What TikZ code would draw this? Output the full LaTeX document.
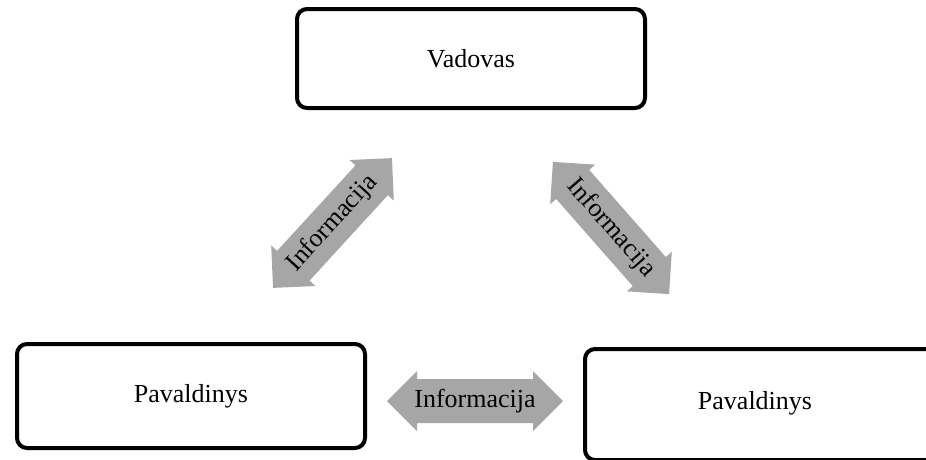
\documentclass[tikz,border=0pt]{standalone}
\usepackage{fontspec}
\setmainfont{Liberation Serif}
\definecolor{arrowgray}{HTML}{A6A6A6}
\begin{document}
\begin{tikzpicture}[x=1pt,y=-1pt,
  role/.style={draw=black, line width=4pt, rounded corners=10pt, fill=white,
    font=\fontsize{26}{30}\selectfont, inner sep=0pt},
  flowlabel/.style={font=\fontsize{26}{30}\selectfont, inner sep=0pt, text=black},
  flowbody/.style={fill=arrowgray, draw=none}]
\clip (0,0) rectangle (926,459);

% role boxes
\node[role, minimum width=348pt, minimum height=99pt] (boss) at (471,58.5) {Vadovas};
\node[role, minimum width=348pt, minimum height=104pt] (subA) at (191,396) {Pavaldinys};
\node[role, minimum width=351pt, minimum height=111pt] (subB) at (760.5,404.5) {};
\node[flowlabel] (subBtext) at (755,403) {Pavaldinys};

% double-headed information arrows
\def\flowarrow#1#2#3{%
  \begin{scope}[shift={#1}, rotate=#2]
    \path[flowbody] (-88,0) -- (-58,30) -- (-58,22) -- (58,22) -- (58,30) -- (88,0)
      -- (58,-30) -- (58,-22) -- (-58,-22) -- (-58,-30) -- cycle;
  \end{scope}
  \node[flowlabel, rotate=#2] (#3) at #1 {Informacija};}

\flowarrow{(332.5,223)}{47.5}{infoL}
\flowarrow{(611,228)}{-48.7}{infoR}
\flowarrow{(475,401)}{0}{infoB}
\end{tikzpicture}
\end{document}
